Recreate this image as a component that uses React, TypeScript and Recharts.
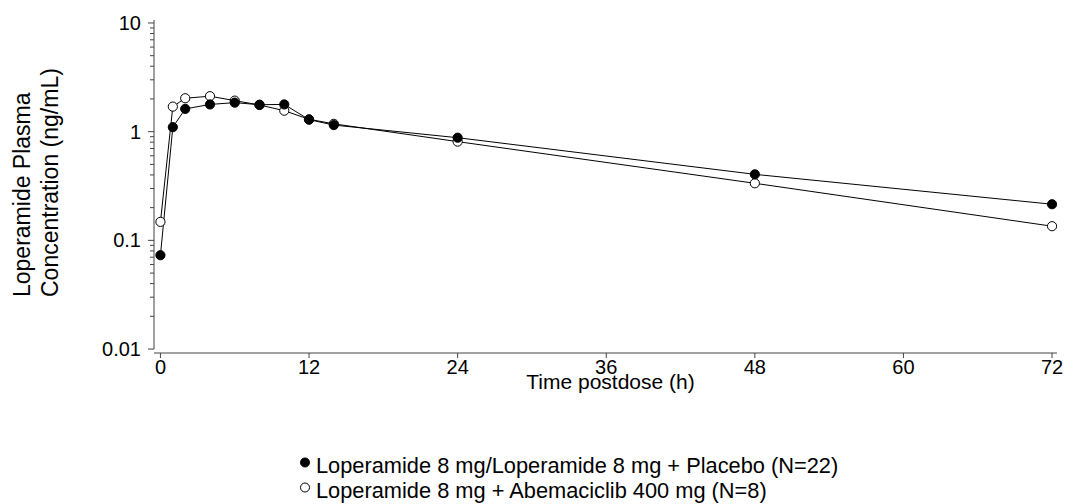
import React from 'react';
import { ComposedChart, Line, XAxis, YAxis, Legend, ReferenceLine } from 'recharts';

// Sampling times (h) and mean loperamide plasma concentrations (ng/mL)
const timeHours = [0, 1, 2, 4, 6, 8, 10, 12, 14, 24, 48, 72];
const placeboConc = [0.073, 1.1, 1.62, 1.78, 1.85, 1.77, 1.78, 1.29, 1.15, 0.88, 0.405, 0.215];
const abemaConc = [0.148, 1.7, 2.03, 2.12, 1.93, 1.76, 1.56, 1.3, 1.18, 0.81, 0.335, 0.135];

const placeboName = 'Loperamide 8 mg/Loperamide 8 mg + Placebo (N=22)';
const abemaName = 'Loperamide 8 mg + Abemaciclib 400 mg (N=8)';

const xTicks = [0, 12, 24, 36, 48, 60, 72];
const yMajorTicks = [0.01, 0.1, 1, 10];
const yMinorTicks = [
  0.02, 0.03, 0.04, 0.05, 0.06, 0.07, 0.08, 0.09,
  0.2, 0.3, 0.4, 0.5, 0.6, 0.7, 0.8, 0.9,
  2, 3, 4, 5, 6, 7, 8, 9,
];
const xDomain: [number, number] = [-0.52, 72.4];
const yDomain: [number, number] = [0.0092, 10.65];

const FONT = 'Arial, "Liberation Sans", sans-serif';
const AXIS_COLOR = '#444';

const data = timeHours.map((t, i) => ({ t, placebo: placeboConc[i], abema: abemaConc[i] }));

const series = [
  { key: 'placebo', name: placeboName, filled: true },
  { key: 'abema', name: abemaName, filled: false },
];

// Axis decorations drawn in the y-axis box: minor log ticks and the two-line title
const YAxisExtras = (props: any) => {
  const vb = props.viewBox || {};
  const axisX = vb.x + vb.width;
  const lMax = Math.log10(yDomain[1]);
  const lMin = Math.log10(yDomain[0]);
  const toY = (v: number) => vb.y + (vb.height * (lMax - Math.log10(v))) / (lMax - lMin);
  const yStart = vb.y + vb.height - 56;
  const x1 = 30;
  const x2 = 58;
  return (
    <g>
      {yMinorTicks.map((v) => (
        <line key={v} x1={axisX} x2={axisX - 4} y1={toY(v)} y2={toY(v)} stroke={AXIS_COLOR} strokeWidth={1} />
      ))}
      <g fontSize={23} fontFamily={FONT} fill="#000">
        <text x={x1} y={yStart} textAnchor="start" transform={`rotate(-90, ${x1}, ${yStart})`}>
          Loperamide Plasma
        </text>
        <text x={x2} y={yStart} textAnchor="start" transform={`rotate(-90, ${x2}, ${yStart})`}>
          Concentration (ng/mL)
        </text>
      </g>
    </g>
  );
};

const XLabel = (props: any) => {
  const vb = props.viewBox || {};
  return (
    <text x={vb.x + vb.width / 2 + 5} y={vb.y + 36} textAnchor="middle" fontSize={21} fontFamily={FONT} fill="#000">
      Time postdose (h)
    </text>
  );
};

const LegendBox = () => (
  <div style={{ fontFamily: FONT, fontSize: 21.8, lineHeight: '25px', color: '#000', whiteSpace: 'nowrap' }}>
    {series.map((s) => (
      <div key={s.key} style={{ display: 'flex', alignItems: 'flex-start', height: 25 }}>
        <svg width={18} height={25} style={{ display: 'block' }}>
          <circle cx={7} cy={9.5} r={4.5} fill={s.filled ? '#000' : '#fff'} stroke="#000" strokeWidth={1} />
        </svg>
        <span>{s.name}</span>
      </div>
    ))}
  </div>
);

export default function App() {
  return (
    <div style={{ position: 'absolute', left: 0, top: 0, width: 1067, height: 504, background: '#fff' }}>
      <ComposedChart
        width={1067}
        height={504}
        data={data}
        margin={{ top: 20, right: 10, bottom: 111, left: 94 }}
      >
        <XAxis
          dataKey="t"
          type="number"
          domain={xDomain}
          ticks={xTicks}
          allowDataOverflow
          height={40}
          tickSize={5}
          tickMargin={2}
          axisLine={{ stroke: AXIS_COLOR, strokeWidth: 1 }}
          tickLine={{ stroke: AXIS_COLOR, strokeWidth: 1 }}
          tick={{ fontSize: 20, fontFamily: FONT, fill: '#000' }}
          label={{ content: (p: any) => <XLabel {...p} /> }}
        />
        {/* decade ticks with labels */}
        <YAxis
          yAxisId="y"
          type="number"
          scale="log"
          domain={yDomain}
          allowDataOverflow
          ticks={yMajorTicks}
          interval={0}
          width={60}
          tickSize={6}
          tickMargin={7}
          axisLine={false}
          tickLine={{ stroke: AXIS_COLOR, strokeWidth: 1 }}
          tick={{ fontSize: 20, fontFamily: FONT, fill: '#000' }}
          tickFormatter={(v: number) => String(v)}
          label={{ content: (p: any) => <YAxisExtras {...p} /> }}
        />
        {/* vertical axis line, from the lowest decade up to the top of the plot */}
        <ReferenceLine
          yAxisId="y"
          segment={[
            { x: xDomain[0], y: yMajorTicks[0] },
            { x: xDomain[0], y: yDomain[1] },
          ]}
          stroke={AXIS_COLOR}
          strokeWidth={1}
          ifOverflow="visible"
        />
        <Line
          yAxisId="y"
          dataKey="abema"
          name={abemaName}
          stroke="#000"
          strokeWidth={1}
          dot={{ r: 4.6, fill: '#fff', stroke: '#000', strokeWidth: 1 }}
          isAnimationActive={false}
        />
        <Line
          yAxisId="y"
          dataKey="placebo"
          name={placeboName}
          stroke="#000"
          strokeWidth={1}
          dot={{ r: 4.6, fill: '#000', stroke: '#000', strokeWidth: 1 }}
          isAnimationActive={false}
        />
        <Legend
          layout="vertical"
          align="center"
          verticalAlign="middle"
          content={() => <LegendBox />}
          wrapperStyle={{ left: 298, top: 453, width: 'auto', height: 'auto' }}
        />
      </ComposedChart>
    </div>
  );
}
